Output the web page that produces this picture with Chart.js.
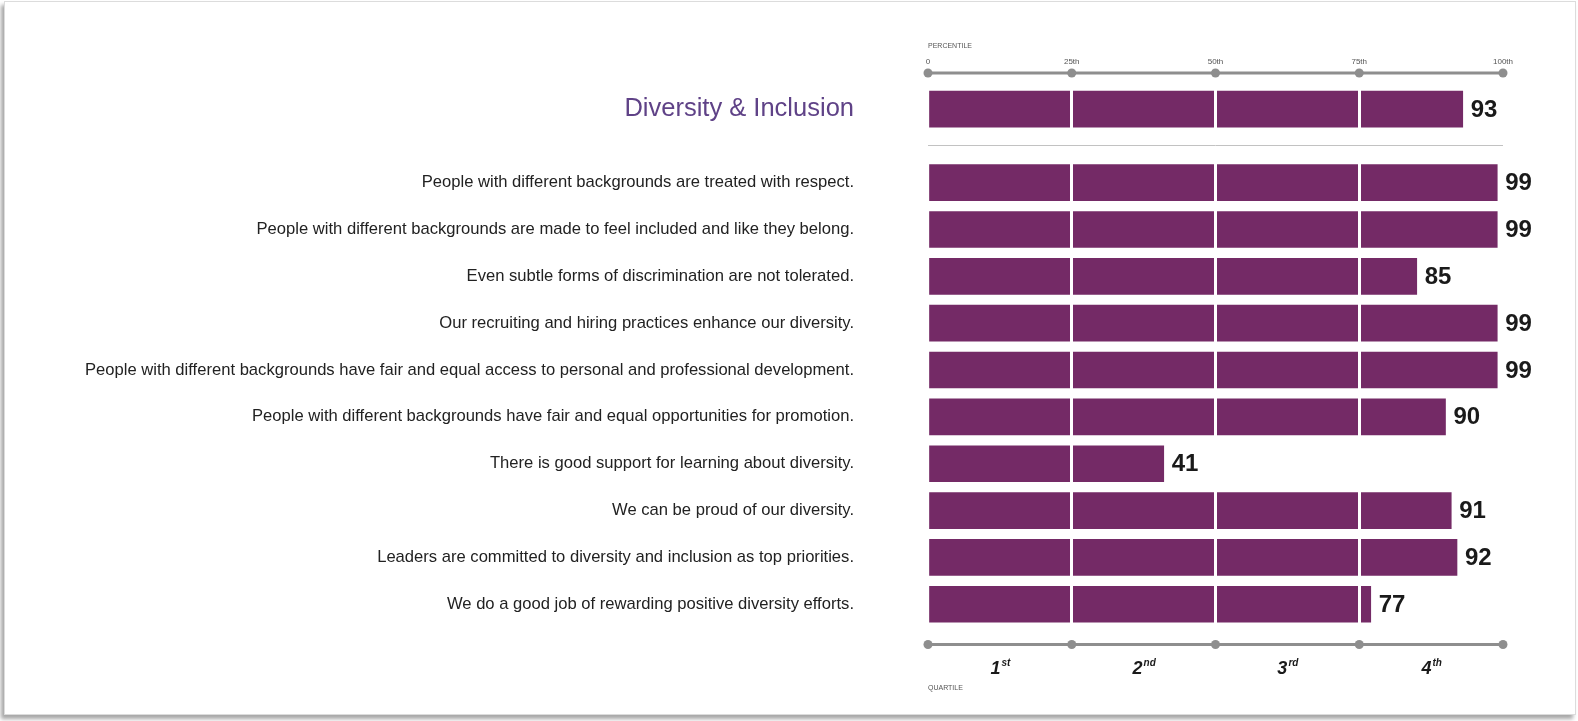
<!DOCTYPE html>
<html>
<head>
<meta charset="utf-8">
<script src="https://cdn.jsdelivr.net/npm/chart.js@4.4.1/dist/chart.umd.min.js"></script>
<style>
  html, body { margin: 0; padding: 0; background: #fff; }
  #frame {
    position: absolute; left: 4px; top: 1px; width: 1570px; height: 712px;
    border: 1px solid #dcdcdc;
    box-shadow: -3px 4px 4px rgba(0, 0, 0, 0.35);
    background: #fff;
  }
  #wrap { position: absolute; left: 0; top: 0; width: 1578px; height: 721px; }
</style>
</head>
<body>
<div id="frame"></div>
<div id="wrap"><canvas id="chart" width="1578" height="721"></canvas></div>
<script>
// data
const summaryLabel = 'Diversity & Inclusion';
const summaryValue = 93;
const itemLabels = [
  'People with different backgrounds are treated with respect.',
  'People with different backgrounds are made to feel included and like they belong.',
  'Even subtle forms of discrimination are not tolerated.',
  'Our recruiting and hiring practices enhance our diversity.',
  'People with different backgrounds have fair and equal access to personal and professional development.',
  'People with different backgrounds have fair and equal opportunities for promotion.',
  'There is good support for learning about diversity.',
  'We can be proud of our diversity.',
  'Leaders are committed to diversity and inclusion as top priorities.',
  'We do a good job of rewarding positive diversity efforts.'
];
const itemValues = [99, 99, 85, 99, 99, 90, 41, 91, 92, 77];
const percentileTicks = ['0', '25th', '50th', '75th', '100th'];
const quartileNums = ['1', '2', '3', '4'];
const quartileSuffix = ['st', 'nd', 'rd', 'th'];

const FONT = "'Liberation Sans', Arial, sans-serif";
const PURPLE = '#742a66';
const AXIS_GREY = '#8e8e8e';
const GAP = 1.57; // summary row sits a bit further from the items

const allLabels = [summaryLabel].concat(itemLabels);
const rowPos = [0].concat(itemLabels.map((l, i) => GAP + i));
const points = [{ x: summaryValue, y: 0 }].concat(itemValues.map((v, i) => ({ x: v, y: GAP + i })));

const extras = {
  id: 'extras',
  afterDraw(chart) {
    const ctx = chart.ctx;
    const area = chart.chartArea;
    const x = chart.scales.x, x2 = chart.scales.x2, y = chart.scales.y;
    ctx.save();

    // thin rule under the summary bar
    const sepY = Math.round((y.getPixelForValue(0) + y.getPixelForValue(GAP)) / 2 - 1);
    ctx.strokeStyle = '#c2c2c2';
    ctx.lineWidth = 1;
    ctx.beginPath();
    ctx.moveTo(area.left, sepY + 0.5);
    ctx.lineTo(area.right, sepY + 0.5);
    ctx.stroke();

    // axis lines with dots at the ticks
    ctx.strokeStyle = AXIS_GREY;
    ctx.fillStyle = AXIS_GREY;
    ctx.lineWidth = 3;
    [[x, area.top], [x2, area.bottom]].forEach(([s, py]) => {
      ctx.beginPath();
      ctx.moveTo(s.left, py);
      ctx.lineTo(s.right, py);
      ctx.stroke();
      s.ticks.forEach(t => {
        ctx.beginPath();
        ctx.arc(s.getPixelForValue(t.value), py, 4.5, 0, Math.PI * 2);
        ctx.fill();
      });
    });

    // quartile labels between the bottom ticks
    ctx.fillStyle = '#1a1a1a';
    ctx.textBaseline = 'alphabetic';
    for (let i = 0; i < quartileNums.length; i++) {
      const a = x2.getPixelForValue(x2.ticks[i].value);
      const b = x2.getPixelForValue(x2.ticks[i + 1].value);
      const cx = (a + b) / 2;
      ctx.font = 'italic bold 18px ' + FONT;
      const wn = ctx.measureText(quartileNums[i]).width;
      ctx.font = 'italic bold 10px ' + FONT;
      const ws = ctx.measureText(quartileSuffix[i]).width;
      const left = cx - (wn + ws) / 2;
      const base = area.bottom + 29;
      ctx.font = 'italic bold 18px ' + FONT;
      ctx.fillText(quartileNums[i], left, base);
      ctx.font = 'italic bold 10px ' + FONT;
      ctx.fillText(quartileSuffix[i], left + wn + 1, base - 8);
    }

    // value labels
    ctx.font = 'bold 24px ' + FONT;
    ctx.textAlign = 'left';
    ctx.textBaseline = 'middle';
    const meta = chart.getDatasetMeta(0);
    meta.data.forEach((bar, i) => {
      ctx.fillText(String(points[i].x), bar.x + 8, bar.y + 1);
    });
    ctx.restore();
  }
};

new Chart(document.getElementById('chart'), {
  type: 'bar',
  data: {
    datasets: [{
      data: points,
      backgroundColor: PURPLE,
      borderWidth: 0,
      barThickness: 36
    }]
  },
  options: {
    indexAxis: 'y',
    responsive: false,
    animation: false,
    layout: { padding: { left: 0, right: 75, top: 0, bottom: 0 } },
    plugins: {
      legend: { display: false },
      tooltip: { enabled: false }
    },
    scales: {
      y: {
        type: 'linear',
        reverse: true,
        offset: false,
        min: -0.772,
        max: 11.43,
        afterBuildTicks: (scale) => { scale.ticks = rowPos.map(v => ({ value: v })); },
        afterFit: (scale) => { scale.width = 928; },
        grid: {
          display: true,
          offset: false,
          drawOnChartArea: false,
          drawTicks: true,
          tickLength: 74,
          tickColor: 'rgba(0,0,0,0)'
        },
        border: { display: false },
        ticks: {
          autoSkip: false,
          padding: 0,
          callback: (value, index) => allLabels[index],
          color: (c) => c.index === 0 ? '#5f4287' : '#222',
          font: (c) => c.index === 0 ? { family: FONT, size: 25.5 } : { family: FONT, size: 16.6 }
        }
      },
      x: {
        type: 'linear',
        position: 'top',
        min: 0,
        max: 100,
        afterFit: (scale) => { scale.height = 73; },
        ticks: {
          stepSize: 25,
          padding: 6,
          color: '#555',
          font: { family: FONT, size: 8 },
          callback: (v) => percentileTicks[v / 25]
        },
        grid: {
          z: 1,
          drawTicks: false,
          lineWidth: 3,
          color: (c) => (c.tick && c.tick.value > 0 && c.tick.value < 100) ? '#ffffff' : 'rgba(0,0,0,0)'
        },
        border: { display: false },
        title: {
          display: true,
          text: 'PERCENTILE',
          align: 'start',
          color: '#555',
          font: { family: FONT, size: 7 },
          padding: { top: 42, bottom: 0 }
        }
      },
      x2: {
        type: 'linear',
        position: 'bottom',
        min: 0,
        max: 100,
        afterFit: (scale) => { scale.height = 76.5; },
        ticks: { stepSize: 25, display: false },
        grid: { display: false, drawTicks: false },
        border: { display: false },
        title: {
          display: true,
          text: 'QUARTILE',
          align: 'start',
          color: '#555',
          font: { family: FONT, size: 7 },
          padding: { top: 0, bottom: 29 }
        }
      }
    }
  },
  plugins: [extras]
});
</script>
</body>
</html>
